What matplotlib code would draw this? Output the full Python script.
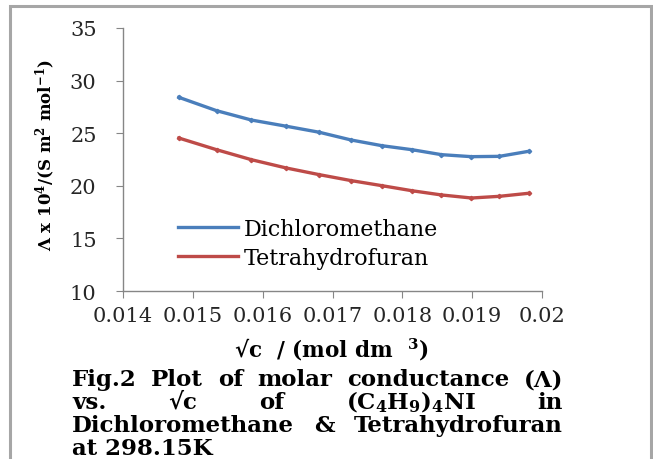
import matplotlib
matplotlib.use('Agg')
import matplotlib.pyplot as plt
from matplotlib.patches import Rectangle

# data
sqrt_c = [0.01480, 0.01534, 0.01584, 0.01634, 0.01681, 0.01727,
          0.01771, 0.01814, 0.01856, 0.01899, 0.01939, 0.01981]
dcm = [28.41, 27.14, 26.25, 25.66, 25.09, 24.35,
       23.81, 23.43, 22.96, 22.77, 22.80, 23.28]
thf = [24.54, 23.43, 22.48, 21.69, 21.06, 20.49,
       20.01, 19.53, 19.13, 18.84, 19.00, 19.29]
series_names = ['Dichloromethane', 'Tetrahydrofuran']
x_ticks = [0.014, 0.015, 0.016, 0.017, 0.018, 0.019, 0.020]
x_ticklabels = ['0.014', '0.015', '0.016', '0.017', '0.018', '0.019', '0.02']
y_ticks = [10, 15, 20, 25, 30, 35]

plt.rcParams['font.family'] = ['DejaVu Serif', 'DejaVu Sans']
plt.rcParams['mathtext.fontset'] = 'dejavuserif'
plt.rcParams['mathtext.default'] = 'bf'

W, H = 653, 460
fig = plt.figure(figsize=(W / 100, H / 100), dpi=100)

def fx(px):
    return px / W

def fy(py):
    return 1 - py / H

# outer frame
fig.add_artist(Rectangle((fx(10), -0.1), fx(651) - fx(10), fy(7) + 0.1,
                         transform=fig.transFigure, fill=False,
                         edgecolor='#a6a6a6', linewidth=2.2))

ax = fig.add_axes([fx(123), fy(292), fx(542) - fx(123), fy(29) - fy(292)])
blue = '#4a7ebb'
red = '#be4b48'
ax.plot(sqrt_c, dcm, color=blue, lw=2.4, label=series_names[0])
ax.plot(sqrt_c, thf, color=red, lw=2.4, label=series_names[1])
# the small point marks, kept out of the legend
ax.plot(sqrt_c, dcm, ls='none', color=blue, marker='D', ms=2.2)
ax.plot(sqrt_c, thf, ls='none', color=red, marker='D', ms=2.2)

ax.set_xlim(0.014, 0.020)
ax.set_ylim(10, 35)
ax.set_xticks(x_ticks)
ax.set_xticklabels(x_ticklabels)
ax.set_yticks(y_ticks)
for s in ['top', 'right']:
    ax.spines[s].set_visible(False)
for s in ['left', 'bottom']:
    ax.spines[s].set_color('#868686')
    ax.spines[s].set_linewidth(1.0)
ax.tick_params(direction='out', length=5, color='#868686', labelsize=15,
               labelcolor='#262626')
ax.tick_params(axis='x', pad=6)
ax.tick_params(axis='y', pad=14)

ax.legend(loc='upper left', bbox_to_anchor=(fx(178), fy(219)),
          bbox_transform=fig.transFigure, frameon=False, fontsize=16,
          handlelength=2.7, handletextpad=0.25, labelspacing=0.32,
          borderpad=0, borderaxespad=0)

fig.text(fx(46), fy(155), 'Λ x 10$^{4}$/(S m$^{2}$ mol$^{-1}$)', rotation=90,
         ha='center', va='center', fontsize=12, fontweight='bold')
fig.text(fx(331), fy(350), '√c  / (mol dm  $^{3}$)', ha='center', va='center',
         fontsize=15.5, fontweight='bold')

# caption, justified between x=72 and x=563
cap_left, cap_right = 72, 563
cap_size = 16.5
renderer = fig.canvas.get_renderer()

def justified(words, baseline):
    items = [fig.text(0, fy(baseline), w, fontsize=cap_size, fontweight='bold',
                      ha='left', va='baseline') for w in words]
    widths = [t.get_window_extent(renderer).width for t in items]
    gap = (cap_right - cap_left - sum(widths)) / (len(words) - 1)
    x = cap_left
    for t, w in zip(items, widths):
        t.set_x(fx(x))
        x += w + gap

justified(['Fig.2', 'Plot', 'of', 'molar', 'conductance', '(Λ)'], 386)
justified(['vs.', '√c', 'of', '(C$_{4}$H$_{9}$)$_{4}$NI', 'in'], 409)
justified(['Dichloromethane', '&', 'Tetrahydrofuran'], 432)
fig.text(fx(cap_left), fy(455), 'at 298.15K', fontsize=cap_size, fontweight='bold',
         ha='left', va='baseline')

fig.savefig('out.png', dpi=100)
